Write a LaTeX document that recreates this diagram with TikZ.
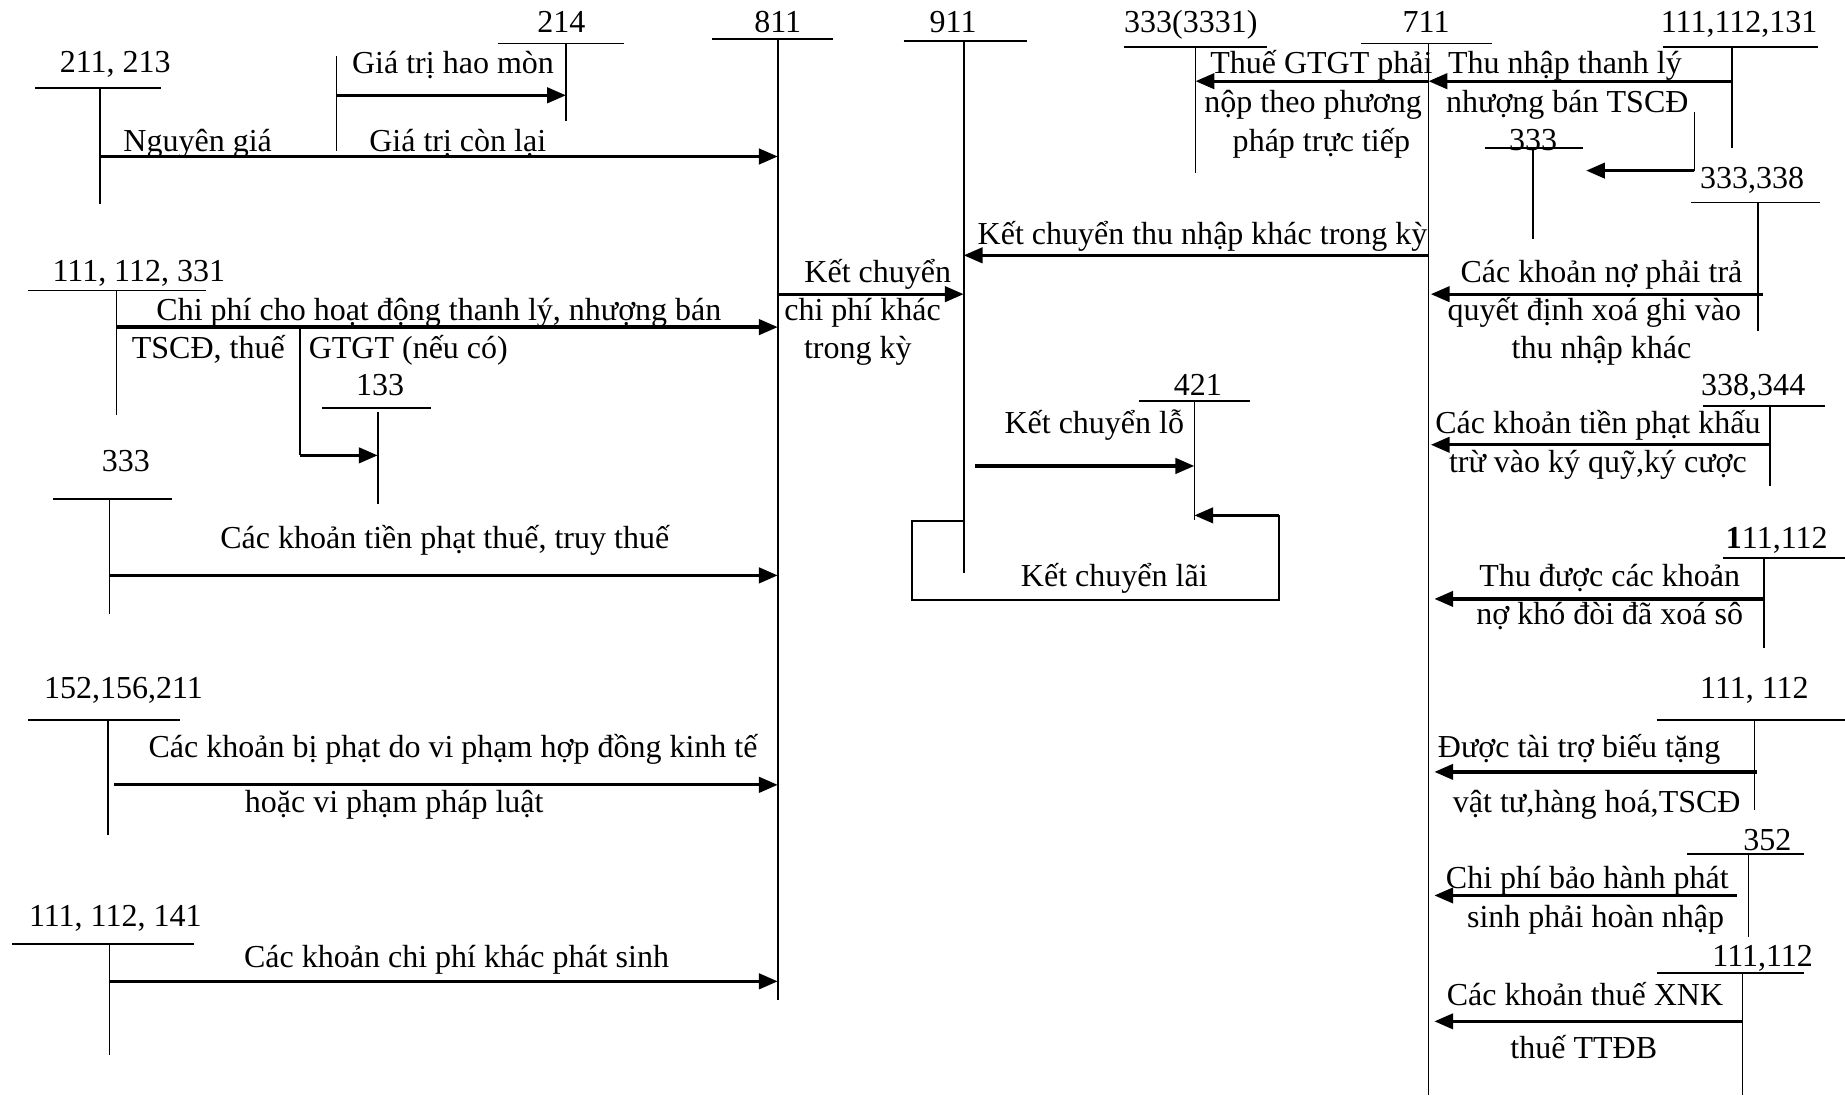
\documentclass[tikz,border=0pt]{standalone}
\usepackage{fontspec}
\setmainfont{Liberation Serif}
\usetikzlibrary{arrows.meta}
\tikzset{
  acct/.style={inner sep=0pt, text height=11.5pt, text depth=2pt},
  note/.style={inner sep=0pt, text height=11.5pt, text depth=2pt},
  tline/.style={line width=0.7pt},
  flow/.style={-{Triangle[length=8pt,width=6.5pt]}, line width=1.4pt}
}

\begin{document}
\begin{tikzpicture}[x=0.5pt, y=-0.5pt, font=\fontsize{13.6}{16}\selectfont]
  \useasboundingbox (0,0) rectangle (1568,931);

  % account 811 and 911
  \node[acct] (n811) at (661,18) {811};
  \draw[tline] (605,33) -- (708,33);
  \draw[tline] (661,33) coordinate (t811) -- (661,850) coordinate (b811);
  \node[acct] (n911) at (810,18) {911};
  \draw[tline] (768,35) -- (873,35);
  \draw[tline] (819,35) coordinate (t911) -- (819,487) coordinate (b911);

  % left side accounts
  \node[acct] (n211) at (98,52) {211, 213};
  \draw[tline] (30,75) -- (137,75);
  \draw[tline] (85,75) coordinate (t211) -- (85,173);
  \node[acct] (n214) at (477,18) {214};
  \draw[tline] (423,37) -- (530,37);
  \draw[tline] (481,37) coordinate (t214) -- (481,103);
  \draw[tline] (286,48) coordinate (hm) -- (286,128);
  \draw[flow] (hm |- 0,81) -- (t214 |- 0,81);
  \node[note] (hmtext) at (385,53) {Giá trị hao mòn};
  \draw[flow] (t211 |- 0,133) -- (t811 |- 0,133);
  \node[note] (ng) at (168,119) {Nguyên giá};
  \node[note] (gtcl) at (389,119) {Giá trị còn lại};

  \node[acct] (n111a) at (118,230) {111, 112, 331};
  \draw[tline] (24,247) -- (175,247);
  \draw[tline] (99,247) coordinate (t111a) -- (99,353);
  \draw[flow] (t111a |- 0,278) -- (t811 |- 0,278);
  \node[note] (cp1) at (373,263) {Chi phí cho hoạt động thanh lý, nhượng bán};
  \node[note] (cp2) at (177,295) {TSCĐ, thuế};
  \node[note] (cp3) at (347,295) {GTGT (nếu có)};
  \node[acct] (n133) at (323,327) {133};
  \draw[tline] (274,347) -- (366,347);
  \draw[tline] (321,350) coordinate (t133) -- (321,428);
  \draw[tline] (255,278) coordinate (vat) -- (255,387) coordinate (vatb);
  \draw[flow] (vatb) -- (t133 |- vatb);

  \node[acct] (n333a) at (107,391) {333};
  \draw[tline] (45,424) -- (146,424);
  \draw[tline] (93,424) coordinate (t333a) -- (93,522);
  \draw[flow] (t333a |- 0,489) -- (t811 |- 0,489);
  \node[note] (pt) at (378,457) {Các khoản tiền phạt thuế, truy thuế};

  \node[acct] (n152) at (105,584) {152,156,211};
  \draw[tline] (24,612) -- (153,612);
  \draw[tline] (92,612) coordinate (t152) -- (92,710);
  \draw[flow] (97,667) -- (t811 |- 0,667);
  \node[note] (bp1) at (385,634) {Các khoản bị phạt do vi phạm hợp đồng kinh tế};
  \node[note] (bp2) at (335,681) {hoặc vi phạm pháp luật};

  \node[acct] (n111b) at (98,778) {111, 112, 141};
  \draw[tline] (10,802) -- (165,802);
  \draw[tline] (93,802) coordinate (t111b) -- (93,897);
  \draw[flow] (t111b |- 0,834) -- (t811 |- 0,834);
  \node[note] (kh) at (388,813) {Các khoản chi phí khác phát sinh};

  % 811 -> 911
  \draw[flow] (t811 |- 0,250) -- (t911 |- 0,250);
  \node[note] (kc1) at (746,231) {Kết chuyển};
  \node[note] (kc2) at (733,263) {chi phí khác};
  \node[note] (kc3) at (729,295) {trong kỳ};

  % 421
  \node[acct] (n421) at (1018,327) {421};
  \draw[tline] (968,341) -- (1062,341);
  \draw[tline] (1015,341) coordinate (t421) -- (1015,442);
  \draw[flow] (829,396) -- (t421 |- 0,396);
  \node[note] (lo) at (930,359) {Kết chuyển lỗ};
  \coordinate (lai) at (1087,438);
  \draw[tline] (t911 |- 0,443) -- (775,443) -- (775,510) -- (1087,510) -- (lai);
  \draw[flow] (lai) -- (t421 |- lai);
  \node[note] (lai text) at (947,489) {Kết chuyển lãi};

  % right side accounts
  \node[acct] (n3331) at (1012,18) {333(3331)};
  \draw[tline] (955,40) -- (1077,40);
  \draw[tline] (1016,40) coordinate (t3331) -- (1016,147);
  \node[acct] (n711) at (1212,18) {711};
  \draw[tline] (1157,37) -- (1268,37);
  \draw[tline] (1214,37) coordinate (t711) -- (1214,931);
  \draw[flow] (t711 |- 0,69) -- (t3331 |- 0,69);
  \node[note] (gt1) at (1123,53) {Thuế GTGT phải};
  \node[note] (gt2) at (1116,86) {nộp theo phương};
  \node[note] (gt3) at (1123,119) {pháp trực tiếp};

  \node[acct] (n111c) at (1478,18) {111,112,131};
  \draw[tline] (1413,40) -- (1545,40);
  \draw[tline] (1472,40) coordinate (t111c) -- (1472,126);
  \draw[flow] (t111c |- 0,69) -- (t711 |- 0,69);
  \node[note] (tn1) at (1330,53) {Thu nhập thanh lý};
  \node[note] (tn2) at (1332,86) {nhượng bán TSCĐ};
  \draw[tline] (1440,95) -- (1440,145) coordinate (tnb);
  \draw[flow] (tnb) -- (1348,145);
  \node[acct] (n333b) at (1303,118) {333};
  \draw[tline] (1262,126) -- (1345,126);
  \draw[tline] (1303,126) coordinate (t333b) -- (1303,203);

  \draw[flow] (t711 |- 0,217) -- (t911 |- 0,217);
  \node[note] (kct) at (1022,198) {Kết chuyển thu nhập khác trong kỳ};

  \node[acct] (n333c) at (1489,151) {333,338};
  \draw[tline] (1437,172) -- (1547,172);
  \draw[tline] (1494,172) coordinate (t333c) -- (1494,281);
  \draw[flow] (1498,250) -- (1216,250);
  \node[note] (no1) at (1361,231) {Các khoản nợ phải trả};
  \node[note] (no2) at (1355,263) {quyết định xoá ghi vào};
  \node[note] (no3) at (1361,295) {thu nhập khác};

  \node[acct] (n338) at (1490,327) {338,344};
  \draw[tline] (1447,345) -- (1551,345);
  \draw[tline] (1504,345) coordinate (t338) -- (1504,413);
  \draw[flow] (t338 |- 0,378) -- (1216,378);
  \node[note] (kq1) at (1358,359) {Các khoản tiền phạt khấu};
  \node[note] (kq2) at (1358,392) {trừ vào ký quỹ,ký cược};

  \node[acct] (n111d) at (1510,457) {\textbf{1}11,112};
  \draw[tline] (1464,474) -- (1568,474);
  \draw[tline] (1499,474) coordinate (t111d) -- (1499,551);
  \draw[flow] (t111d |- 0,509) -- (1219,509);
  \node[note] (kd1) at (1368,489) {Thu được các khoản};
  \node[note] (kd2) at (1368,521) {nợ khó đòi đã xoá sô};

  \node[acct] (n111e) at (1491,584) {111, 112};
  \draw[tline] (1408,612) -- (1568,612);
  \draw[tline] (1491,612) coordinate (t111e) -- (1491,688);
  \draw[flow] (1493,656) -- (1219,656);
  \node[note] (tt1) at (1342,634) {Được tài trợ biếu tặng};
  \node[note] (tt2) at (1357,681) {vật tư,hàng hoá,TSCĐ};

  \node[acct] (n352) at (1502,713) {352};
  \draw[tline] (1434,726) -- (1533,726);
  \draw[tline] (1486,726) coordinate (t352) -- (1486,796);
  \draw[flow] (1476,761) -- (1219,761);
  \node[note] (bh1) at (1349,746) {Chi phí bảo hành phát};
  \node[note] (bh2) at (1356,779) {sinh phải hoàn nhập};

  \node[acct] (n111f) at (1498,812) {111,112};
  \draw[tline] (1408,827) -- (1533,827);
  \draw[tline] (1481,827) coordinate (t111f) -- (1481,931);
  \draw[flow] (t111f |- 0,868) -- (1219,868);
  \node[note] (xn1) at (1347,845) {Các khoản thuế XNK};
  \node[note] (xn2) at (1346,890) {thuế TTĐB};
\end{tikzpicture}
\end{document}
